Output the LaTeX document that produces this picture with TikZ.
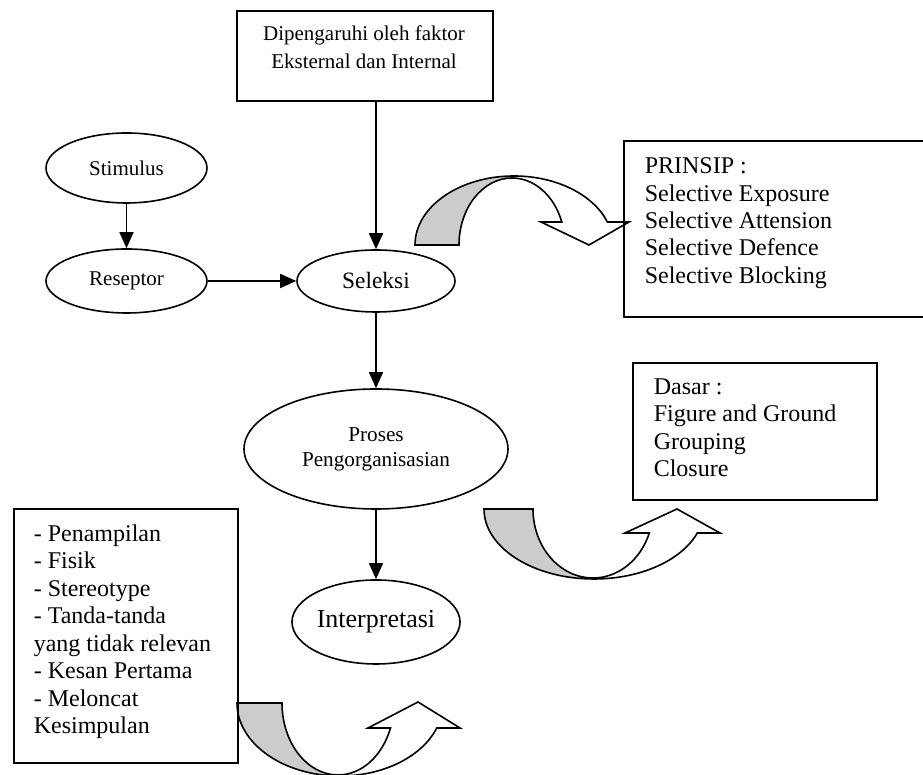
\documentclass[tikz,border=0pt]{standalone}
\usepackage{fontspec}
\setmainfont{Liberation Serif}
\usetikzlibrary{arrows.meta,shapes.geometric}
\begin{document}
\begin{tikzpicture}[x=0.5pt,y=0.5pt,
  line width=0.8pt,
  oval/.style={draw, ellipse, inner sep=0pt},
  frame/.style={draw, rectangle, inner sep=0pt, anchor=north west},
  txt/.style={inner sep=0pt, align=left, anchor=north west, font=\fontsize{12}{13.7}\selectfont},
  arr/.style={-{Triangle[length=8pt,width=7pt]}},
  back/.style={draw, fill=black!20, line join=miter},
  front/.style={draw, fill=white, line join=miter}]
\useasboundingbox (0,0) rectangle (923,775);
\clip (0,0) rectangle (923,775);

% curved arrows
\path[back] (415,530) arc[start angle=180, end angle=90, x radius=99, y radius=69]
  -- (512,597) arc[start angle=90, end angle=180, x radius=53, y radius=67] -- cycle;
\path[front] (514,599) arc[start angle=90, end angle=19.47, x radius=99, y radius=69]
  -- (629,553) -- (589,530) -- (541,553) -- (561.8,553)
  arc[start angle=20.07, end angle=90, x radius=53, y radius=67] -- cycle;

\path[back] (484,266) arc[start angle=180, end angle=270, x radius=110, y radius=70]
  -- (593,197) arc[start angle=270, end angle=180, x radius=60, y radius=69] -- cycle;
\path[front] (594,196) arc[start angle=270, end angle=339.95, x radius=110, y radius=70]
  -- (720,242) -- (677,266) -- (625,242) -- (649.3,242)
  arc[start angle=339.65, end angle=270, x radius=60, y radius=69] -- cycle;

\path[back] (237,72) arc[start angle=180, end angle=270, x radius=103, y radius=73]
  -- (338,0) arc[start angle=270, end angle=180, x radius=56, y radius=72] -- cycle;
\path[front] (340,-1) arc[start angle=270, end angle=339.97, x radius=103, y radius=73]
  -- (460,47) -- (418,73) -- (368,47) -- (390.5,47)
  arc[start angle=339.68, end angle=270, x radius=56, y radius=72] -- cycle;

% boxes
\node[frame, minimum width=128pt, minimum height=45pt] (topbox) at (236,765) {};
\node[inner sep=0pt, anchor=north, align=center, font=\fontsize{10.5}{14}\selectfont] (toptxt) at (364,750) {Dipengaruhi oleh faktor\\Eksternal dan Internal};

\node[frame, minimum width=156pt, minimum height=88pt] (prinsipbox) at (623,635) {};
\node[txt] (prinsip) at (644,618) {PRINSIP :\\Selective Exposure\\Selective Attension\\Selective Defence\\Selective Blocking};

\node[frame, minimum width=122pt, minimum height=68.5pt] (dasarbox) at (632,413) {};
\node[txt] (dasar) at (653,397) {Dasar :\\Figure and Ground\\Grouping\\Closure};

\node[frame, minimum width=112pt, minimum height=127pt] (leftbox) at (13,267) {};
\node[txt, font=\fontsize{12}{13.75}\selectfont] (lefttxt) at (33,251) {- Penampilan\\- Fisik\\- Stereotype\\- Tanda-tanda\\yang tidak relevan\\- Kesan Pertama\\- Meloncat\\Kesimpulan};

% ellipses
\node[oval, minimum width=80.5pt, minimum height=35pt, font=\fontsize{10.5}{12}\selectfont] (stim) at (126.5,607) {Stimulus};
\node[oval, minimum width=80.5pt, minimum height=32pt, font=\fontsize{10.5}{12}\selectfont] (res) at (126.5,494) {Reseptor};
\node[oval, minimum width=79pt, minimum height=31pt, font=\fontsize{11.7}{13}\selectfont] (sel) at (376,494) {Seleksi};
\node[oval, minimum width=132pt, minimum height=60pt, align=center, font=\fontsize{10.6}{12.5}\selectfont] (proc) at (376,326) {Proses\\Pengorganisasian};
\node[oval, minimum width=84pt, minimum height=42pt, font=\fontsize{13}{15}\selectfont] (interp) at (376,153) {Interpretasi};

% connectors
\draw[arr] (stim) -- (res);
\draw[arr] (res) -- (sel);
\draw[arr] (topbox.south -| sel.north) -- (sel.north);
\draw[arr] (sel) -- (proc);
\draw[arr] (proc) -- (interp);
\end{tikzpicture}
\end{document}
